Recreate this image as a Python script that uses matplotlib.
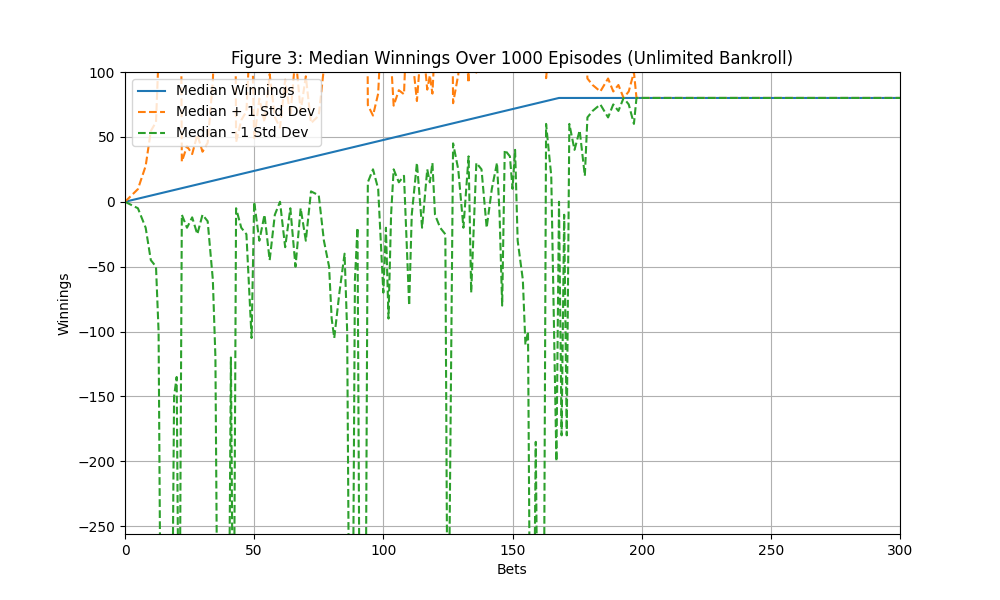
import numpy as np
import matplotlib.pyplot as plt

bets = [0, 5, 8, 10, 12, 13, 14, 18, 19, 20, 21, 22, 24, 26, 28, 30, 32, 34, 35, 36,
        40, 41, 42, 43, 45, 47, 49, 50, 52, 54, 56, 58, 60, 62, 64, 66, 68, 70, 72, 75,
        77, 79, 80, 81, 83, 85, 86, 87, 88, 89, 90, 91, 93, 94, 96, 98, 100, 101, 102, 103,
        104, 106, 108, 110, 111, 113, 115, 117, 118, 119, 120, 122, 124, 125, 127, 129, 131, 133, 134, 136,
        138, 140, 142, 144, 145, 146, 147, 149, 150, 151, 152, 154, 155, 156, 157, 158, 159, 160, 162, 163,
        165, 167, 168, 169, 170, 171, 172, 174, 176, 178, 179, 181, 184, 187, 189, 191, 193, 195, 197, 198,
        200, 300]
lower = [0, -5, -20, -45, -50, -100, -400, -400, -150, -135, -400, -10, -20, -12, -25, -10, -15, -60, -120, -400,
         -400, -120, -400, -5, -20, -25, -105, 0, -30, -10, -45, -10, 0, -35, -5, -50, -5, -30, 8, 5,
         -30, -50, -90, -105, -70, -40, -100, -400, -400, -60, -20, -400, -400, 15, 25, 10, -70, -20, -90, -10,
         25, 15, 20, -80, -10, 30, -20, 25, 15, 30, -10, -20, -25, -400, 45, 25, -20, 35, -70, 30,
         25, -20, 10, 30, -10, -80, 40, 35, 10, 40, -30, -60, -110, -100, -400, -400, -185, -400, -400, 60,
         20, -200, 0, -180, -10, -180, 60, 40, 55, 20, 65, 70, 75, 65, 75, 70, 80, 75, 60, 80,
         80, 80]

bets = np.array(bets)
lower = np.array(lower)
median = np.minimum(bets * 80 / 168, 80)
std = median - lower
upper = median + std

med_x = [0, 168, 300]
med_y = [0, 80, 80]

plt.figure(figsize=(10, 6))
plt.plot(med_x, med_y, label='Median Winnings')
plt.plot(bets, upper, '--', label='Median + 1 Std Dev')
plt.plot(bets, lower, '--', label='Median - 1 Std Dev')
plt.xlim(0, 300)
plt.ylim(-256, 100)
plt.title('Figure 3: Median Winnings Over 1000 Episodes (Unlimited Bankroll)')
plt.xlabel('Bets')
plt.ylabel('Winnings')
plt.legend(loc='upper left')
plt.grid(True)
plt.savefig('out.png', dpi=100)
